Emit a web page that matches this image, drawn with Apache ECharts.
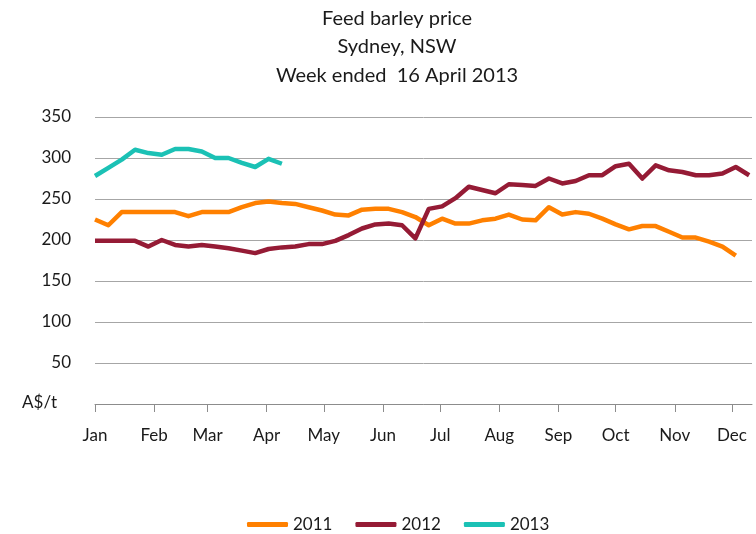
<!DOCTYPE html>
<html>
<head>
<meta charset="utf-8">
<script src="https://cdn.jsdelivr.net/npm/echarts@6/dist/echarts.min.js"></script>
<style>html,body{margin:0;padding:0;background:#fff}#c{width:756px;height:534px}</style>
</head>
<body>
<div id="c"></div>
<script>
const titleLines = ['Feed barley price', 'Sydney, NSW', 'Week ended  16 April 2013'];
const monthNames = ['Jan','Feb','Mar','Apr','May','Jun','Jul','Aug','Sep','Oct','Nov','Dec'];
const monthStartDays = [0,31,59,90,120,151,181,212,243,273,304,334];
const weekDays = [0,7,14,21,28,35,42,49,56,63,70,77,84,91,98,105,112,119,126,133,140,147,154,161,168,175,182,189,196,203,210,217,224,231,238,245,252,259,266,273,280,287,294,301,308,315,322,329,336,343];

const price2011 = [225,218,234,234,234,234,234,229,234,234,234,240,245,247,245,244,240,236,231,230,237,238,238,234,228,218,226,220,220,224,226,231,225,224,240,231,234,232,226,219,213,217,217,210,203,203,198,192,181];
const price2012 = [199,199,199,199,192,200,194,192,194,192,190,187,184,189,191,192,195,195,199,206,214,219,220,218,202,238,241,251,265,261,257,268,267,266,275,269,272,279,279,290,293,275,291,285,283,279,279,281,289,279];
const price2013 = [278,288,298,310,306,304,311,311,308,300,300,294,289,299,293];

function pairs(vals){ return vals.map((v,i)=>[weekDays[i], v]); }

const font = 'Lato, "Liberation Sans", sans-serif';
const chart = echarts.init(document.getElementById('c'));
chart.setOption({
  animation: false,
  textStyle: { fontFamily: font },
  graphic: [{
    type: 'text', x: 397, y: 4,
    style: {
      text: titleLines.join('\n'), align: 'center', verticalAlign: 'top',
      font: 'normal 20px ' + font, lineHeight: 28.5, fill: '#1a1a1a'
    }
  }],
  legend: {
    top: 511, left: 242,
    icon: 'roundRect', itemWidth: 41, itemHeight: 5, itemGap: 23,
    textStyle: { fontFamily: font, fontSize: 17, color: '#1a1a1a' },
    data: ['2011','2012','2013']
  },
  grid: { left: 95, right: 4, top: 117, bottom: 130, containLabel: false },
  xAxis: {
    type: 'value', min: 0, max: 344.5,
    axisLine: { show: true, lineStyle: { color: '#8c8c8c', width: 1 } },
    axisTick: { show: true, length: 8, customValues: monthStartDays, lineStyle: { color: '#8c8c8c' } },
    axisLabel: {
      customValues: monthStartDays, margin: 23,
      fontFamily: font, fontSize: 17, color: '#1a1a1a',
      formatter: v => monthNames[monthStartDays.indexOf(v)]
    },
    splitLine: { show: false }
  },
  yAxis: {
    type: 'value', min: 0, max: 350, interval: 50,
    axisLine: { show: false }, axisTick: { show: false },
    axisLabel: {
      margin: 24, fontFamily: font, fontSize: 17, color: '#1a1a1a',
      formatter: v => v === 0 ? '{u|A$/t}' : String(v),
      rich: { u: { fontFamily: font, fontSize: 17, color: '#1a1a1a', padding: [0, 14, 2, 0] } }
    },
    splitLine: { show: true, lineStyle: { color: '#a6a6a6', width: 1 } }
  },
  series: [
    { name: '2011', type: 'line', data: pairs(price2011), symbol: 'none', color: '#ff8000', lineStyle: { width: 4.5, color: '#ff8000', join: 'round' } },
    { name: '2012', type: 'line', data: pairs(price2012), symbol: 'none', color: '#951b35', lineStyle: { width: 4.5, color: '#951b35', join: 'round' } },
    { name: '2013', type: 'line', data: pairs(price2013), symbol: 'none', color: '#1bc1b5', lineStyle: { width: 4.5, color: '#1bc1b5', join: 'round' } }
  ]
});
</script>
</body>
</html>
